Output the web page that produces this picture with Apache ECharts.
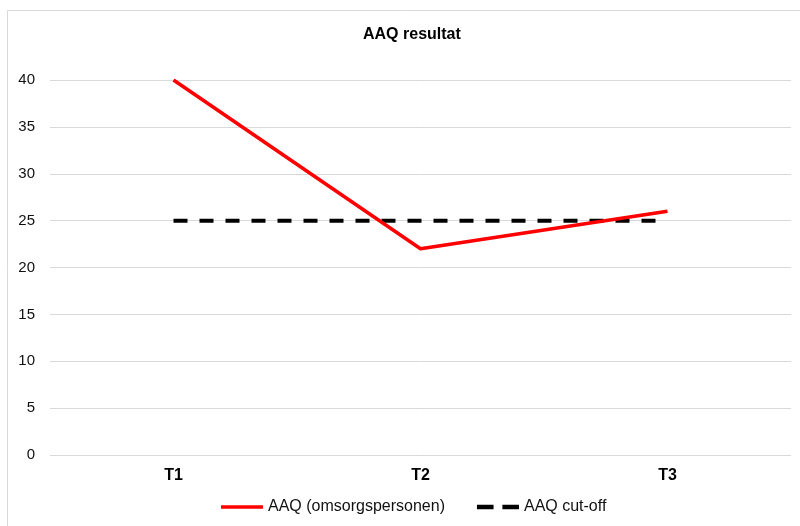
<!DOCTYPE html>
<html>
<head>
<meta charset="utf-8">
<script src="https://cdn.jsdelivr.net/npm/echarts@6/dist/echarts.min.js"></script>
<style>
html,body{margin:0;padding:0;background:#fff;}
#chart{width:800px;height:526px;}
</style>
</head>
<body>
<div id="chart"></div>
<script>
var chart = echarts.init(document.getElementById('chart'));

// data
var categories = ['T1', 'T2', 'T3'];
var aaqValues = [40, 22, 26];
var cutoffValues = [25, 25, 25];
var seriesNames = ['AAQ (omsorgspersonen)', 'AAQ cut-off'];

var font = 'Liberation Sans, Arial, sans-serif';

var option = {
    animation: false,
    backgroundColor: '#fff',
    textStyle: { fontFamily: font },
    title: {
        text: 'AAQ resultat',
        left: 358,
        top: 22,
        textStyle: { fontSize: 16, fontWeight: 'bold', color: '#000', fontFamily: font }
    },
    graphic: [{
        type: 'rect',
        shape: { x: 7.5, y: 10.5, width: 820, height: 540 },
        style: { fill: 'none', stroke: '#d9d9d9', lineWidth: 1 },
        silent: true
    }],
    legend: {
        bottom: 6,
        left: 216,
        itemWidth: 42,
        itemHeight: 14,
        itemGap: 32,
        textStyle: { fontSize: 16, color: '#111', fontFamily: font },
        data: [
            { name: seriesNames[0], icon: 'path://M0,0 L42,0 L42,3.5 L0,3.5 Z', itemStyle: { color: '#ff0000' } },
            { name: seriesNames[1], icon: 'path://M0,0 L15,0 L15,4 L0,4 Z M23,0 L38,0 L38,4 L23,4 Z', itemStyle: { color: '#000' } }
        ]
    },
    grid: { left: 50, right: 9, top: 80, bottom: 71 },
    xAxis: {
        type: 'category',
        data: categories,
        boundaryGap: true,
        axisLine: { show: false },
        axisTick: { show: false },
        axisLabel: { fontSize: 16, fontWeight: 'bold', color: '#000', margin: 13, fontFamily: font }
    },
    yAxis: {
        type: 'value',
        min: 0,
        max: 40,
        interval: 5,
        axisLine: { show: false },
        axisTick: { show: false },
        axisLabel: { fontSize: 15, color: '#111', margin: 15, fontFamily: font },
        splitLine: { lineStyle: { color: '#d9d9d9', width: 1 } }
    },
    series: [
        {
            name: seriesNames[0],
            type: 'line',
            data: aaqValues,
            symbol: 'none',
            itemStyle: { color: '#ff0000' },
            lineStyle: { color: '#ff0000', width: 3.5 },
            z: 3
        },
        {
            name: seriesNames[1],
            type: 'line',
            data: cutoffValues,
            symbol: 'none',
            itemStyle: { color: '#000' },
            lineStyle: { color: '#000', width: 4, type: [14, 12] },
            z: 2
        }
    ]
};
chart.setOption(option);
</script>
</body>
</html>
